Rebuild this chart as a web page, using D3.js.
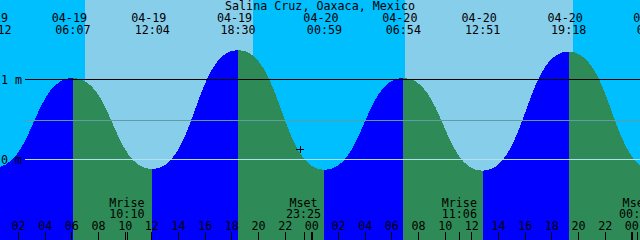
<!DOCTYPE html>
<html>
<head>
<meta charset="utf-8">
<script src="https://cdn.jsdelivr.net/npm/d3@7"></script>
<style>
  html, body { margin: 0; padding: 0; background: #fff; }
  svg { display: block; }
  text { font-family: "DejaVu Sans Mono", monospace; font-size: 11.7px; fill: #000; }
</style>
</head>
<body>
<div id="chart"></div>
<script>
// tide extremes (meters)
const tideTimes = ["2024-04-19 00:12", "2024-04-19 06:07", "2024-04-19 12:04", "2024-04-19 18:30",
                   "2024-04-20 00:59", "2024-04-20 06:54", "2024-04-20 12:51", "2024-04-20 19:18",
                   "2024-04-21 01:44"];
const tideLevels = [-0.10, 1.02, -0.12, 1.37, -0.13, 1.02, -0.14, 1.35, -0.14];

// sun
const sunriseTimes = ["2024-04-19 07:02", "2024-04-20 07:02"];
const sunsetTimes = ["2024-04-19 19:38", "2024-04-20 19:38"];

// moon
const moonTimes = ["2024-04-19 10:10", "2024-04-19 23:25", "2024-04-20 11:06", "2024-04-21 00:24"];
const moonNames = ["Mrise", "Mset", "Mrise", "Mset"];

// level lines and labels
const levelValues = [1, 0.49, 0];
const levelLabels = ["1 m", "", "0 m"];

// current time marker
const nowTime = "2024-04-19 23:09";
const nowLevel = 0.125;

const title = "Salina Cruz, Oaxaca, Mexico";
const startTime = "2024-04-19 00:39", endTime = "2024-04-21 00:39";

const width = 640, height = 240;
const parse = d3.utcParse("%Y-%m-%d %H:%M");

const x = d3.scaleUtc()
    .domain([parse(startTime), parse(endTime)])
    .range([0, width]);
const y = d3.scaleLinear()
    .domain([0, 1])
    .range([159.5, 79.5]);

const svg = d3.select("#chart").append("svg")
    .attr("width", width)
    .attr("height", height);

// night background, then day bands
svg.append("rect")
    .attr("width", width).attr("height", height)
    .attr("fill", "#00bfff");
svg.selectAll(".day")
    .data(sunriseTimes)
    .join("rect")
    .attr("class", "day")
    .attr("x", (d, i) => x(parse(d)))
    .attr("width", (d, i) => x(parse(sunsetTimes[i])) - x(parse(d)))
    .attr("y", 0).attr("height", height)
    .attr("fill", "#87ceeb")
    .attr("shape-rendering", "crispEdges");

// tide: one filled piece per rise / fall
const tide = tideTimes.map((t, i) => ({ t: parse(t), v: tideLevels[i] }));
const segments = d3.pairs(tide);
const area = d3.area()
    .x(d => x(d.t))
    .y0(height)
    .y1(d => y(d.v))
    .curve(d3.curveBumpX);

svg.selectAll(".tide")
    .data(segments)
    .join("path")
    .attr("class", "tide")
    .attr("d", d => area(d))
    .attr("fill", d => d[1].v > d[0].v ? "#0000ff" : "#2e8b57")
    .attr("shape-rendering", "crispEdges");

// level lines
const lineColors = ["#000000", "#5f9ea0", "#b0e0f0"];
svg.selectAll(".level")
    .data(levelValues)
    .join("line")
    .attr("class", "level")
    .attr("x1", 25).attr("x2", width)
    .attr("y1", d => Math.floor(y(d)) + 0.5)
    .attr("y2", d => Math.floor(y(d)) + 0.5)
    .attr("stroke", (d, i) => lineColors[i])
    .attr("stroke-width", 1);

svg.selectAll(".levelLabel")
    .data(levelValues.filter((d, i) => levelLabels[i] !== ""))
    .join("text")
    .attr("class", "levelLabel")
    .attr("x", 1)
    .attr("y", d => y(d) + 4)
    .text(d => levelLabels[levelValues.indexOf(d)]);

// title and tide event labels
svg.append("text")
    .attr("x", width / 2).attr("y", 10)
    .attr("text-anchor", "middle")
    .text(title);

const fmtDate = d3.utcFormat("%m-%d"), fmtTime = d3.utcFormat("%H:%M");
const ev = svg.selectAll(".ev")
    .data(tide)
    .join("g")
    .attr("class", "ev")
    .attr("transform", d => "translate(" + x(d.t) + ",0)");
ev.append("text")
    .attr("x", -3.5).attr("y", 22)
    .attr("text-anchor", "middle")
    .text(d => fmtDate(d.t));
ev.append("text")
    .attr("y", 33.5)
    .attr("text-anchor", "middle")
    .text(d => fmtTime(d.t));

// moon events
const moon = moonTimes.map((t, i) => ({ t: parse(t), name: moonNames[i] }));
const mv = svg.selectAll(".moon")
    .data(moon)
    .join("g")
    .attr("class", "moon")
    .attr("transform", d => "translate(" + x(d.t) + ",0)");
mv.append("text")
    .attr("y", 207)
    .attr("text-anchor", "middle")
    .text(d => d.name);
mv.append("text")
    .attr("y", 218)
    .attr("text-anchor", "middle")
    .text(d => fmtTime(d.t));
mv.append("line")
    .attr("x1", 0.5).attr("x2", 0.5)
    .attr("y1", 232).attr("y2", height)
    .attr("stroke", "#000")
    .attr("shape-rendering", "crispEdges");

// hour axis along the bottom
const axis = svg.append("g")
    .attr("transform", "translate(0," + height + ")")
    .call(d3.axisTop(x)
        .ticks(d3.utcHour.every(2))
        .tickFormat(d3.utcFormat("%H"))
        .tickSize(8)
        .tickPadding(2));
axis.select(".domain").remove();
axis.attr("font-family", null).attr("font-size", null);
axis.selectAll(".tick line")
    .attr("shape-rendering", "crispEdges")
    .attr("stroke-width", d => d.getUTCHours() === 0 ? 2.5 : 1);
axis.selectAll(".tick text").attr("fill", "#000");

// current time marker
const nx = x(parse(nowTime)), ny = y(nowLevel);
svg.append("path")
    .attr("d", "M" + (nx - 4) + "," + ny + "H" + (nx + 4) + "M" + nx + "," + (ny - 3.5) + "V" + (ny + 3.5))
    .attr("stroke", "#000")
    .attr("stroke-width", 1)
    .attr("shape-rendering", "crispEdges");
</script>
</body>
</html>
